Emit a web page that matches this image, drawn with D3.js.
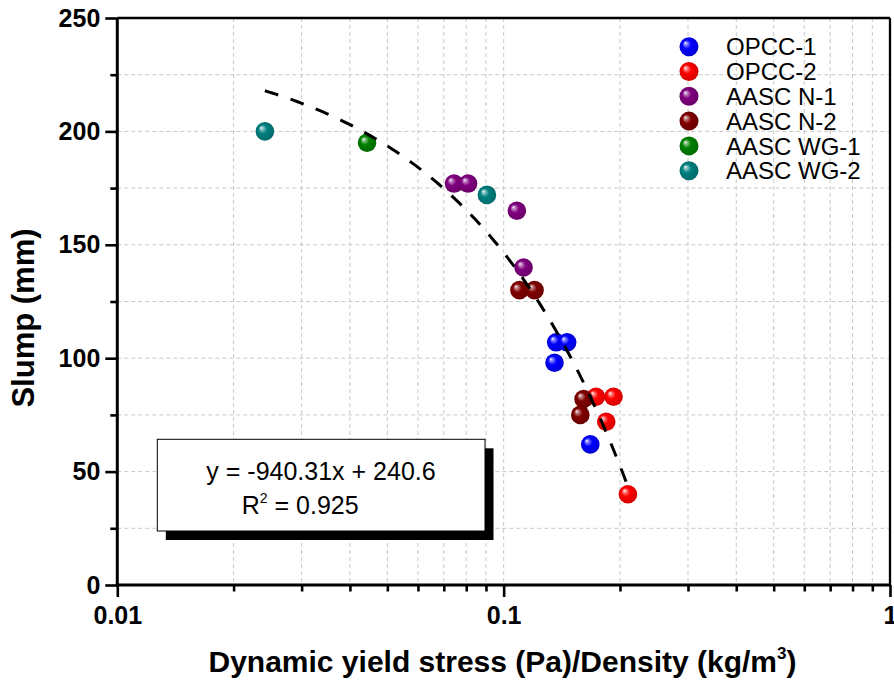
<!DOCTYPE html>
<html>
<head>
<meta charset="utf-8">
<script src="https://cdn.jsdelivr.net/npm/d3@7"></script>
<style>
  html, body { margin: 0; padding: 0; background: #fff; }
  svg { display: block; }
  text { font-family: "Liberation Sans", Arial, sans-serif; }
</style>
</head>
<body>
<svg id="chart" width="894" height="682"></svg>
<script>
// Series names and colours
const seriesNames = ["OPCC-1", "OPCC-2", "AASC N-1", "AASC N-2", "AASC WG-1", "AASC WG-2"];
const seriesColors = ["#0000ff", "#ff0000", "#800080", "#800000", "#008000", "#008080"];

// Dynamic yield stress / density for each series
const opcc1X = [0.1368, 0.146, 0.1354, 0.1676];
const opcc2X = [0.1734, 0.1925, 0.1843, 0.2097];
const n1X    = [0.0744, 0.0809, 0.1082, 0.1126];
const n2X    = [0.1099, 0.1202, 0.1610, 0.1579];
const wg1X   = [0.0443];
const wg2X   = [0.0241, 0.0905];

// Slump (mm) for each series
const opcc1Y = [107, 107, 98, 62];
const opcc2Y = [83, 83, 72, 40];
const n1Y    = [177, 177, 165, 140];
const n2Y    = [130, 130, 82, 75];
const wg1Y   = [195];
const wg2Y   = [200, 172];

// Linear fit reported on the chart
const fitSlope = -940.31;
const fitIntercept = 240.6;
const fitR2 = 0.925;

// Axis ticks
const xMajorTicks = [0.01, 0.1, 1];
const xTickLabels = ["0.01", "0.1", "1"];
const yMajorTicks = [0, 50, 100, 150, 200, 250];
const yMinorTicks = [25, 75, 125, 175, 225];

const seriesX = [opcc1X, opcc2X, n1X, n2X, wg1X, wg2X];
const seriesY = [opcc1Y, opcc2Y, n1Y, n2Y, wg1Y, wg2Y];
const series = seriesNames.map((name, i) => ({
  name, color: seriesColors[i],
  points: seriesX[i].map((x, j) => ({ x, y: seriesY[i][j] }))
}));

const plotLeft = 117.3, plotRight = 890, plotTop = 18, plotBottom = 585;
const svg = d3.select("#chart");

const x = d3.scaleLog().domain([0.01, 1]).range([plotLeft, plotRight]);
const y = d3.scaleLinear().domain([0, 250]).range([plotBottom, plotTop]);

// Sphere-like shading for the markers
const defs = svg.append("defs");
series.forEach((s, i) => {
  const c = d3.color(s.color);
  const g = defs.append("radialGradient")
    .attr("id", "ball" + i)
    .attr("cx", "50%").attr("cy", "50%").attr("r", "55%")
    .attr("fx", "30%").attr("fy", "30%");
  g.append("stop").attr("offset", "0%").attr("stop-color", "#ffffff");
  g.append("stop").attr("offset", "14%").attr("stop-color", d3.interpolateRgb(s.color, "#ffffff")(0.55));
  g.append("stop").attr("offset", "42%").attr("stop-color", s.color);
  g.append("stop").attr("offset", "100%").attr("stop-color", c.darker(0.6).formatHex());
});

// Minor decade positions for the log axis
const xMinor = [];
[0.01, 0.1].forEach(d => { for (let k = 2; k <= 9; k++) xMinor.push(+(d * k).toFixed(3)); });

// Grid
const grid = svg.append("g").attr("stroke", "#c8c8c8").attr("stroke-width", 1)
  .attr("stroke-dasharray", "4,3");
xMinor.concat([0.1]).forEach(v => {
  grid.append("line").attr("x1", x(v)).attr("x2", x(v)).attr("y1", plotTop).attr("y2", plotBottom);
});
yMajorTicks.concat(yMinorTicks).filter(v => v > 0 && v < 250).forEach(v => {
  grid.append("line").attr("x1", plotLeft).attr("x2", plotRight).attr("y1", y(v)).attr("y2", y(v));
});

// Frame: thin top/right, heavy left/bottom
svg.append("line").attr("x1", plotLeft).attr("x2", plotRight).attr("y1", plotTop).attr("y2", plotTop)
  .attr("stroke", "#000").attr("stroke-width", 2.3);
svg.append("line").attr("x1", plotRight).attr("x2", plotRight).attr("y1", plotTop).attr("y2", plotBottom)
  .attr("stroke", "#000").attr("stroke-width", 2.3);

// Axes
const yAxis = d3.axisLeft(y).tickValues(yMajorTicks).tickSize(12).tickPadding(5);
const yAxisMinor = d3.axisLeft(y).tickValues(yMinorTicks).tickSize(7).tickFormat("");
const xAxis = d3.axisBottom(x).tickValues(xMajorTicks).tickSize(12).tickPadding(9)
  .tickFormat((d, i) => xTickLabels[i]);
const xAxisMinor = d3.axisBottom(x).tickValues(xMinor).tickSize(6.5).tickFormat("");

function styleAxis(g) {
  g.select(".domain").attr("stroke-width", 3).attr("stroke", "#000");
  g.selectAll(".tick line").attr("stroke-width", 2.6).attr("stroke", "#000");
  g.selectAll(".tick text").attr("fill", "#000")
    .style("font-family", "'Liberation Sans', Arial, sans-serif")
    .style("font-size", "25px").style("font-weight", "bold");
}
svg.append("g").attr("transform", `translate(${plotLeft},0)`).call(yAxisMinor).call(styleAxis)
  .select(".domain").remove();
svg.append("g").attr("transform", `translate(0,${plotBottom})`).call(xAxisMinor).call(styleAxis)
  .select(".domain").remove();
svg.append("g").attr("transform", `translate(${plotLeft},0)`).call(yAxis).call(styleAxis)
  .call(g => g.select(".domain").attr("d", `M0,${plotBottom + 1.5}V${plotTop}`));
svg.append("g").attr("transform", `translate(0,${plotBottom})`).call(xAxis).call(styleAxis)
  .call(g => g.select(".domain").attr("d", `M${plotLeft - 1.5},0H${plotRight + 1}`));

// Axis titles
const xt = svg.append("text").attr("x", 502.5).attr("y", 672).attr("text-anchor", "middle")
  .style("font-size", "30px").style("font-weight", "bold").attr("fill", "#000");
xt.append("tspan").text("Dynamic yield stress (Pa)/Density (kg/m");
xt.append("tspan").attr("dy", -13).style("font-size", "17px").text("3");
xt.append("tspan").attr("dy", 13).text(")");

svg.append("text")
  .attr("transform", `translate(34,318) rotate(-90)`)
  .attr("text-anchor", "middle")
  .style("font-size", "31px").style("font-weight", "bold").attr("fill", "#000")
  .text("Slump (mm)");

// Equation box with drop shadow
const box = { x0: 157.3, y0: 439.3, x1: 485, y1: 531 };
svg.append("rect").attr("x", box.x0 + 8.5).attr("y", box.y0 + 9)
  .attr("width", box.x1 - box.x0).attr("height", box.y1 - box.y0).attr("fill", "#000");
svg.append("rect").attr("x", box.x0).attr("y", box.y0)
  .attr("width", box.x1 - box.x0).attr("height", box.y1 - box.y0)
  .attr("fill", "#fff").attr("stroke", "#000").attr("stroke-width", 1);
svg.append("text").attr("x", 321).attr("y", 480).attr("text-anchor", "middle")
  .style("font-size", "25px").attr("fill", "#000")
  .text(`y = ${fitSlope}x + ${fitIntercept}`);
const r2 = svg.append("text").attr("x", 241.7).attr("y", 513.5)
  .style("font-size", "25px").attr("fill", "#000");
r2.append("tspan").text("R");
r2.append("tspan").attr("dy", -11).style("font-size", "14px").text("2");
r2.append("tspan").attr("dy", 11).text(` = ${fitR2}`);

// Data markers
const marks = svg.append("g");
series.forEach((s, i) => {
  marks.selectAll(null).data(s.points).enter().append("circle")
    .attr("cx", d => x(d.x)).attr("cy", d => y(d.y)).attr("r", 9.3)
    .attr("fill", `url(#ball${i})`);
});

// Fit line across the data range (straight in linear x, curved on the log axis)
const allX = seriesX.flat();
const [fx0, fx1] = d3.extent(allX);
const fitPts = d3.range(0, 101).map(k => {
  const xv = fx0 * Math.pow(fx1 / fx0, k / 100);
  return [xv, fitSlope * xv + fitIntercept];
});
svg.append("path")
  .attr("d", d3.line().x(d => x(d[0])).y(d => y(d[1]))(fitPts))
  .attr("fill", "none").attr("stroke", "#000").attr("stroke-width", 3)
  .attr("stroke-dasharray", "14,13");

// Legend
const leg = svg.append("g");
series.forEach((s, i) => {
  const cy = 46.7 + i * 24.8;
  leg.append("circle").attr("cx", 689).attr("cy", cy).attr("r", 9.5)
    .attr("fill", `url(#ball${i})`);
  leg.append("text").attr("x", 726).attr("y", cy + 8.6)
    .style("font-size", "24px").attr("fill", "#000").text(s.name);
});
</script>
</body>
</html>
